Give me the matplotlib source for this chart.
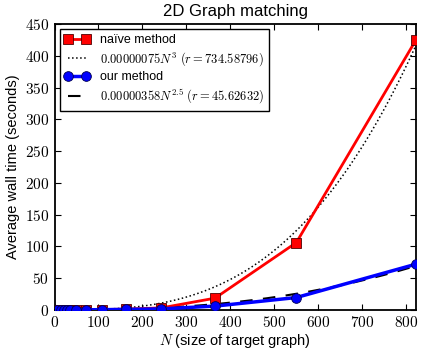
import matplotlib
matplotlib.use("Agg")
import matplotlib.pyplot as plt
import numpy as np
from matplotlib.ticker import FuncFormatter

plt.rcParams["font.family"] = ["Liberation Sans", "DejaVu Sans"]
plt.rcParams["mathtext.fontset"] = "cm"

# graph sizes (N) and measured wall times (seconds)
sizes = np.array([6, 14, 21, 28, 35, 48, 72, 108, 162, 243, 365, 550, 822])
naive_times = np.array([0.01, 0.02, 0.03, 0.05, 0.08, 0.15, 0.3, 0.6, 1.2, 3.2, 18.5, 106.0, 425.0])
ours_times = np.array([0.01, 0.02, 0.03, 0.04, 0.06, 0.1, 0.2, 0.4, 0.8, 1.6, 6.0, 19.5, 72.0])

# fitted power laws from the legend
naive_coef, naive_exp = 0.00000075, 3.0
ours_coef, ours_exp = 0.00000358, 2.5

naive_label = "naïve method"
naive_fit_label = r"$0.00000075N^3\ (r=734.58796)$"
ours_label = "our method"
ours_fit_label = r"$0.00000358N^{2.5}\ (r=45.62632)$"

fig = plt.figure(figsize=(4.36, 3.49), dpi=100)
ax = fig.add_axes([0.125, 0.112, 0.829, 0.819])

# smooth fit curves over the measured range
n_fit = np.linspace(sizes.min(), sizes.max(), 300)

ax.plot(sizes, naive_times, color="red", linewidth=2.0, marker="s",
        markersize=7, markerfacecolor="red", markeredgecolor="#500000",
        markeredgewidth=0.6, label=naive_label, zorder=4)
ax.plot(n_fit, naive_coef * n_fit ** naive_exp, color="black",
        linestyle=":", linewidth=1.1, label=naive_fit_label, zorder=3)
ax.plot(sizes, ours_times, color="blue", linewidth=2.5, marker="o",
        markersize=7, markerfacecolor="blue", markeredgecolor="#000050",
        markeredgewidth=0.6, label=ours_label, zorder=4)
ax.plot(n_fit, ours_coef * n_fit ** ours_exp, color="black",
        linestyle=(0, (6, 5)), linewidth=1.5, label=ours_fit_label, zorder=3)

ax.set_xlim(0, 822)
ax.set_ylim(0, 450)
ax.set_xticks(np.arange(0, 801, 100))
ax.set_yticks(np.arange(0, 451, 50))
fmt = FuncFormatter(lambda v, _: f"${v:g}$")
ax.xaxis.set_major_formatter(fmt)
ax.yaxis.set_major_formatter(fmt)
ax.tick_params(direction="in", top=True, right=True, length=4,
               labelsize=11, pad=4)
for spine in ax.spines.values():
    spine.set_linewidth(1.3)

ax.set_xlabel(r"$N$ (size of target graph)", fontsize=10.5, labelpad=1)
ax.set_ylabel("Average wall time (seconds)", fontsize=10.5, labelpad=3)
ax.set_title("2D Graph matching", fontsize=12, pad=6)

leg = ax.legend(loc="upper left", numpoints=2, fontsize=9.0,
                fancybox=False, framealpha=1.0, edgecolor="black",
                handlelength=2.0, borderaxespad=0.4, labelspacing=0.3)
leg.get_frame().set_linewidth(1.0)

fig.savefig("out.png", dpi=100, facecolor="white")
